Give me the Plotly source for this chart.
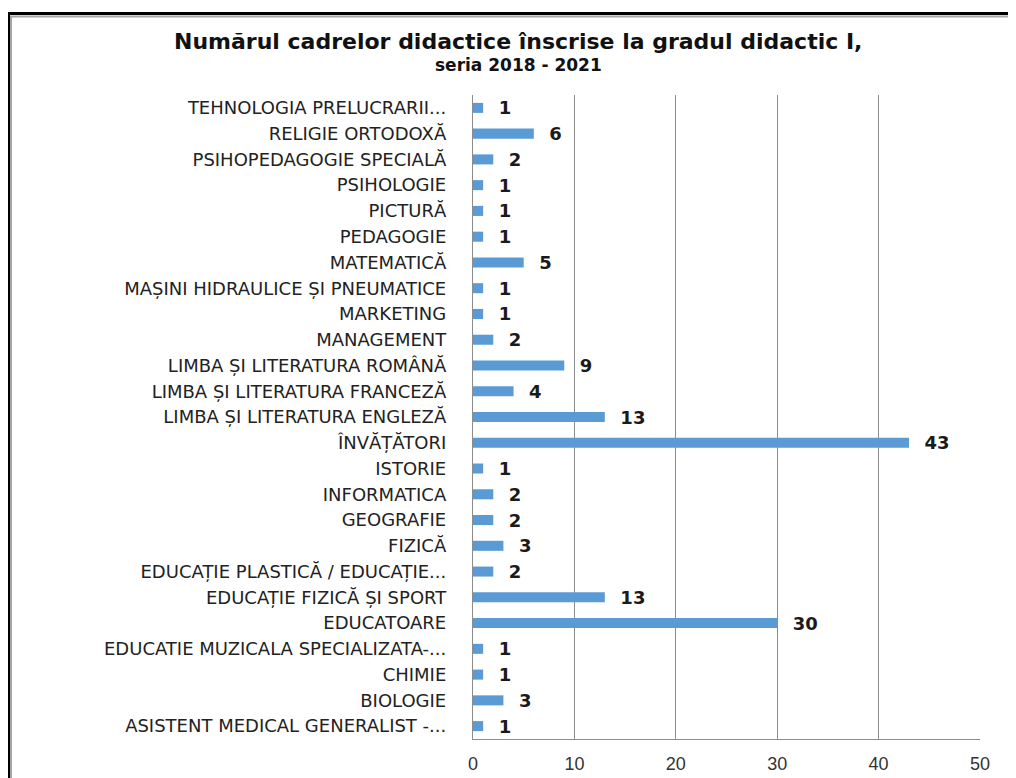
import plotly.graph_objects as go

# Data (bottom to top, as drawn)
categories = [
    "ASISTENT MEDICAL GENERALIST -...",
    "BIOLOGIE",
    "CHIMIE",
    "EDUCATIE MUZICALA SPECIALIZATA-...",
    "EDUCATOARE",
    "EDUCAȚIE FIZICĂ ȘI SPORT",
    "EDUCAȚIE PLASTICĂ / EDUCAȚIE...",
    "FIZICĂ",
    "GEOGRAFIE",
    "INFORMATICA",
    "ISTORIE",
    "ÎNVĂȚĂTORI",
    "LIMBA ȘI LITERATURA ENGLEZĂ",
    "LIMBA ȘI LITERATURA FRANCEZĂ",
    "LIMBA ȘI LITERATURA ROMÂNĂ",
    "MANAGEMENT",
    "MARKETING",
    "MAȘINI HIDRAULICE ȘI PNEUMATICE",
    "MATEMATICĂ",
    "PEDAGOGIE",
    "PICTURĂ",
    "PSIHOLOGIE",
    "PSIHOPEDAGOGIE SPECIALĂ",
    "RELIGIE ORTODOXĂ",
    "TEHNOLOGIA PRELUCRARII...",
]
values = [1, 3, 1, 1, 30, 13, 2, 3, 2, 2, 1, 43, 13, 4, 9, 2, 1, 1, 5, 1, 1, 1, 2, 6, 1]
x_ticks = [0, 10, 20, 30, 40, 50]
title_line1 = "Numărul cadrelor didactice înscrise la gradul didactic I,"
title_line2 = "seria 2018 - 2021"

W, H = 1016, 778
OFF = 8  # page body margin
L, R, T, B = 473 - OFF, 980 - OFF, 95 - OFF, 739 - OFF


def fx(p):  # figure pixel -> paper x
    return (p - L) / (R - L)


def fy(p):  # figure pixel -> paper y
    return (B - p) / (B - T)


fig = go.Figure(
    go.Bar(
        x=values,
        y=categories,
        orientation="h",
        marker=dict(color="#5B9BD5", line=dict(width=0)),
        text=values,
        texttemplate="\u00a0\u00a0%{x}",
        textposition="outside",
        constraintext="none",
        textfont=dict(family="DejaVu Sans", size=18, color="#1a1a1a", weight="bold"),
        cliponaxis=False,
        hoverinfo="x+y",
    )
)

fig.update_layout(
    width=W,
    height=H,
    margin=dict(l=L, r=W - R, t=T, b=H - B, pad=0),
    paper_bgcolor="white",
    plot_bgcolor="white",
    bargap=0.61,
    showlegend=False,
    annotations=[
        dict(
            text=title_line1,
            xref="paper", yref="paper",
            x=fx(518 - OFF), y=fy(42 - OFF),
            xanchor="center", yanchor="middle",
            showarrow=False,
            font=dict(family="DejaVu Sans", size=22, color="#111", weight="bold"),
        ),
        dict(
            text=title_line2,
            xref="paper", yref="paper",
            x=fx(518 - OFF), y=fy(65 - OFF),
            xanchor="center", yanchor="middle",
            showarrow=False,
            font=dict(family="DejaVu Sans", size=17, color="#111", weight="bold"),
        ),
    ],
    xaxis=dict(
        range=[0, 50],
        tickvals=x_ticks,
        showgrid=True,
        gridcolor="#8c8c8c",
        gridwidth=1.3,
        zeroline=False,
        showline=True,
        linecolor="#8c8c8c",
        linewidth=1.3,
        ticks="",
        ticklabelstandoff=8,
        tickfont=dict(family="Liberation Sans", size=18, color="#333"),
        fixedrange=True,
    ),
    yaxis=dict(
        type="category",
        categoryorder="array",
        categoryarray=categories,
        showgrid=False,
        showline=True,
        linecolor="#8c8c8c",
        linewidth=1.3,
        ticks="",
        ticklabelstandoff=22,
        tickfont=dict(family="DejaVu Sans", size=18, color="#222"),
        fixedrange=True,
    ),
    shapes=[
        dict(
            type="rect",
            xref="paper", yref="paper",
            x0=fx(3), x1=fx(1060),
            y0=fy(820), y1=fy(8.5),
            line=dict(color="#a6a6a6", width=2),
            fillcolor="rgba(0,0,0,0)",
            layer="above",
        ),
        dict(
            type="rect",
            xref="paper", yref="paper",
            x0=fx(0.5), x1=fx(1060),
            y0=fy(820), y1=fy(5.5),
            line=dict(color="black", width=3),
            fillcolor="rgba(0,0,0,0)",
            layer="above",
        ),
    ],
)

fig.write_html("out.html")
